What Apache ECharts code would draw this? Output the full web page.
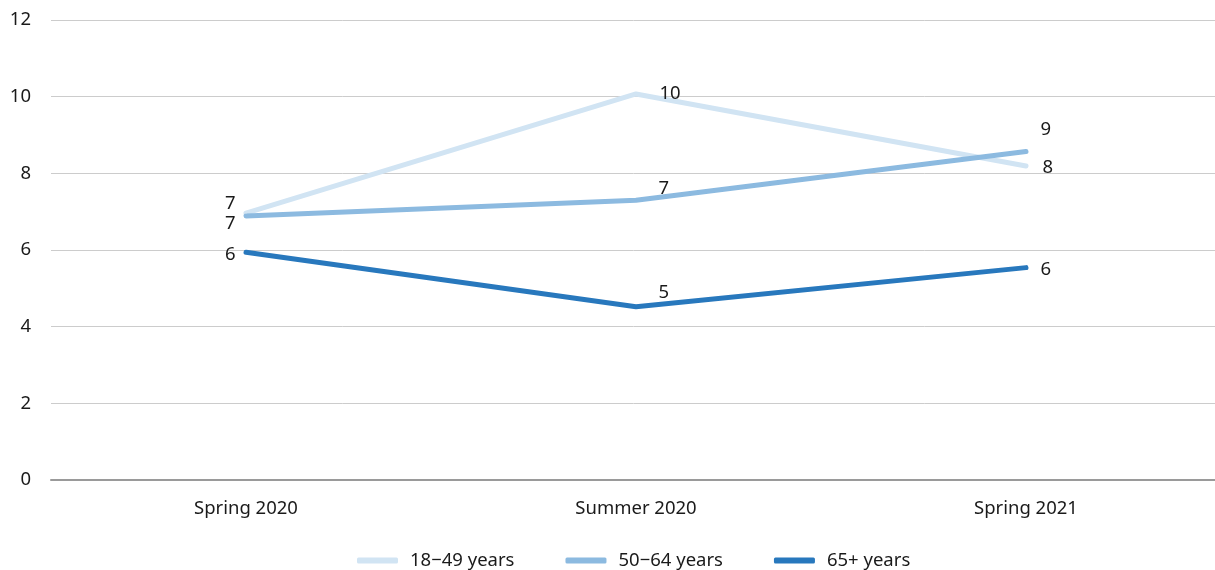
<!DOCTYPE html>
<html>
<head>
<meta charset="utf-8">
<script src="https://cdn.jsdelivr.net/npm/echarts@6/dist/echarts.min.js"></script>
<style>
  html, body { margin: 0; padding: 0; background: #fff; }
  #main { width: 1215px; height: 570px; }
</style>
</head>
<body>
<div id="main"></div>
<script>
const categories = ["Spring 2020", "Summer 2020", "Spring 2021"];
const seriesNames = ["18\u221249 years", "50\u221264 years", "65+ years"];
const young = [6.96, 10.07, 8.19];
const middle = [6.89, 7.3, 8.57];
const older = [5.94, 4.52, 5.54];
const yTicks = [0, 2, 4, 6, 8, 10, 12];

const colors = ["#d1e4f3", "#8cbae0", "#2878bd"];

// label placement per point: [position, dx, dy]
const labelPlaces = [
	[["left", 4, -9], ["right", 9, 0], ["right", 2, 2]],
	[["left", 4, 8], ["right", 8, -11], ["right", 0, -22]],
	[["left", 4, 2], ["right", 8, -14], ["right", 0, 2]],
];

const fontFamily = "'Noto Sans', sans-serif";
const fontSize = 18.5;

function buildSeries(name, values, idx) {
	return {
		name: name,
		type: "line",
		data: values.map((v, i) => ({
			value: v,
			label: {
				position: labelPlaces[idx][i][0],
				offset: [labelPlaces[idx][i][1], labelPlaces[idx][i][2]],
			},
		})),
		symbol: "circle",
		symbolSize: 1,
		lineStyle: { width: 5, color: colors[idx], cap: "round", join: "round" },
		itemStyle: { color: colors[idx] },
		label: {
			show: true,
			distance: 14,
			fontSize: fontSize,
			fontFamily: fontFamily,
			color: "#1a1a1a",
			formatter: (p) => Math.round(p.value),
		},
		emphasis: { disabled: true },
		animation: false,
	};
}

let myChart = echarts.init(document.getElementById("main"));

myChart.setOption({
	backgroundColor: "#fff",
	textStyle: { fontFamily: fontFamily },
	grid: {
		left: 51,
		width: 1170,
		top: 20,
		bottom: 90,
		containLabel: false,
		outerBoundsMode: "none",
	},
	xAxis: {
		type: "category",
		data: categories,
		boundaryGap: true,
		axisLine: { lineStyle: { color: "#9a9a9a", width: 2 } },
		axisTick: { show: false },
		axisLabel: { fontSize: fontSize, color: "#1a1a1a", margin: 19, fontFamily: fontFamily },
	},
	yAxis: {
		type: "value",
		min: yTicks[0],
		max: yTicks[yTicks.length - 1],
		interval: 2,
		axisLine: { show: false },
		axisTick: { show: false },
		splitLine: { lineStyle: { color: "#cccccc", width: 1 } },
		axisLabel: { fontSize: fontSize, color: "#1a1a1a", margin: 20, fontFamily: fontFamily },
	},
	legend: {
		top: 546,
		left: 352,
		icon: "roundRect",
		itemWidth: 41,
		itemHeight: 6,
		itemGap: 51,
		textStyle: {
			fontSize: fontSize,
			color: "#1a1a1a",
			fontFamily: fontFamily,
			padding: [0, 0, 0, 7],
		},
		data: seriesNames,
	},
	series: [
		buildSeries(seriesNames[0], young, 0),
		buildSeries(seriesNames[1], middle, 1),
		buildSeries(seriesNames[2], older, 2),
	],
});
</script>
</body>
</html>
